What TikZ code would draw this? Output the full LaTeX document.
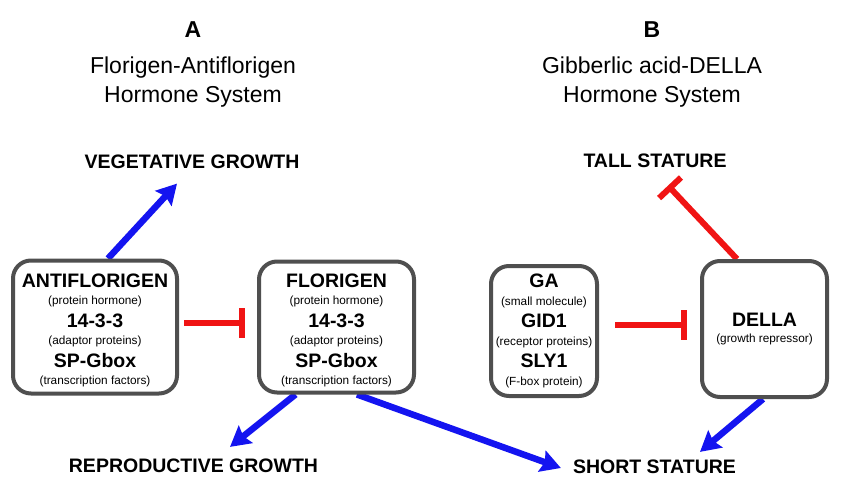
\documentclass[tikz,border=0pt]{standalone}
\usepackage{fontspec}
\setmainfont{Liberation Sans}
\usepackage{tikz}
\usetikzlibrary{arrows.meta,calc,backgrounds}
\definecolor{boxgrey}{HTML}{4F4F4F}
\definecolor{actblue}{HTML}{1414F0}
\definecolor{inhred}{HTML}{F01414}
\newcommand{\hname}[1]{{\fontsize{19.5}{19.5}\selectfont\bfseries #1}}
\tikzset{
  hbox/.style={draw=boxgrey,line width=4pt,rounded corners=18pt,fill=white,align=center,inner sep=0pt,
               font=\fontsize{11.8}{18.5}\selectfont},
  outcome/.style={font=\fontsize{19.5}{19.5}\selectfont\bfseries,inner sep=0pt},
  panel/.style={align=center,inner sep=0pt,anchor=north,font=\fontsize{23}{29}\selectfont},
  letter/.style={font=\fontsize{23}{23}\selectfont\bfseries,inner sep=0pt},
  act/.style={-{Stealth[length=20pt,width=22pt,inset=3pt]},draw=actblue,line width=6.5pt},
  inh/.style={-{Bar[width=30pt]},draw=inhred,line width=6pt},
}
\begin{document}
\begin{tikzpicture}[x=1pt,y=-1pt]
  \useasboundingbox (0,0) rectangle (844,500);
  % panel headings
  \node[letter] (lblA) at (193,30) {A};
  \node[panel] (sysA) at (193,57) {Florigen-Antiflorigen\\Hormone System};
  \node[letter] (lblB) at (652,30) {B};
  \node[panel] (sysB) at (652,57) {Gibberlic acid-DELLA\\Hormone System};
  % hormone complexes
  \node[hbox,minimum width=164pt,minimum height=133pt] (anti) at (95,327)
    {\rule{0pt}{20pt}\hname{ANTIFLORIGEN}\\[-1pt](protein hormone)\\[4pt]\hname{14-3-3}\\[-1pt](adaptor proteins)\\[4pt]\hname{SP-Gbox}\\[-1pt](transcription factors)};
  \node[hbox,minimum width=155pt,minimum height=131pt] (flor) at (336.5,327)
    {\rule{0pt}{20pt}\hname{FLORIGEN}\\[-1pt](protein hormone)\\[4pt]\hname{14-3-3}\\[-1pt](adaptor proteins)\\[4pt]\hname{SP-Gbox}\\[-1pt](transcription factors)};
  \node[hbox,minimum width=106pt,minimum height=130pt] (ga) at (544,331)
    {\hname{GA}\\[-1pt](small molecule)\\[4pt]\hname{GID1}\\[-1pt](receptor proteins)\\[4pt]\hname{SLY1}\\[-1pt](F-box protein)};
  \node[hbox,minimum width=125pt,minimum height=136pt] (della) at (764.5,329)
    {\hname{DELLA}\\[-2pt](growth repressor)};
  % outcomes
  \node[outcome] (veg) at (192,161.5) {VEGETATIVE GROWTH};
  \node[outcome] (tall) at (655,160.5) {TALL STATURE};
  \node[outcome] (repro) at (193.5,466) {REPRODUCTIVE GROWTH};
  \node[outcome] (short) at (654.5,467) {SHORT STATURE};
  \begin{scope}[on background layer]
    \draw[act] ($(anti.north)+(13,0)$) -- ($(veg.south)+(-15,15)$);
    \draw[inh] ($(anti.east)+(5,-4)$) -- ($(flor.west)+(-12,-4)$);
    \draw[act] ($(flor.south)+(-41,0)$) -- ($(repro.north)+(36.5,-12)$);
    \draw[act] ($(flor.south)+(20.5,0)$) -- ($(short.west)+(-12,1)$);
    \draw[inh] ($(ga.east)+(16,-6)$) -- ($(della.west)+(-13,-4)$);
    \draw[inh] ($(della.north)+(-27.5,0)$) -- ($(tall.south)+(13,18)$);
    \draw[act] ($(della.south)+(-1.5,0)$) -- ($(short.north)+(45.5,-8)$);
  \end{scope}
\end{tikzpicture}
\end{document}
